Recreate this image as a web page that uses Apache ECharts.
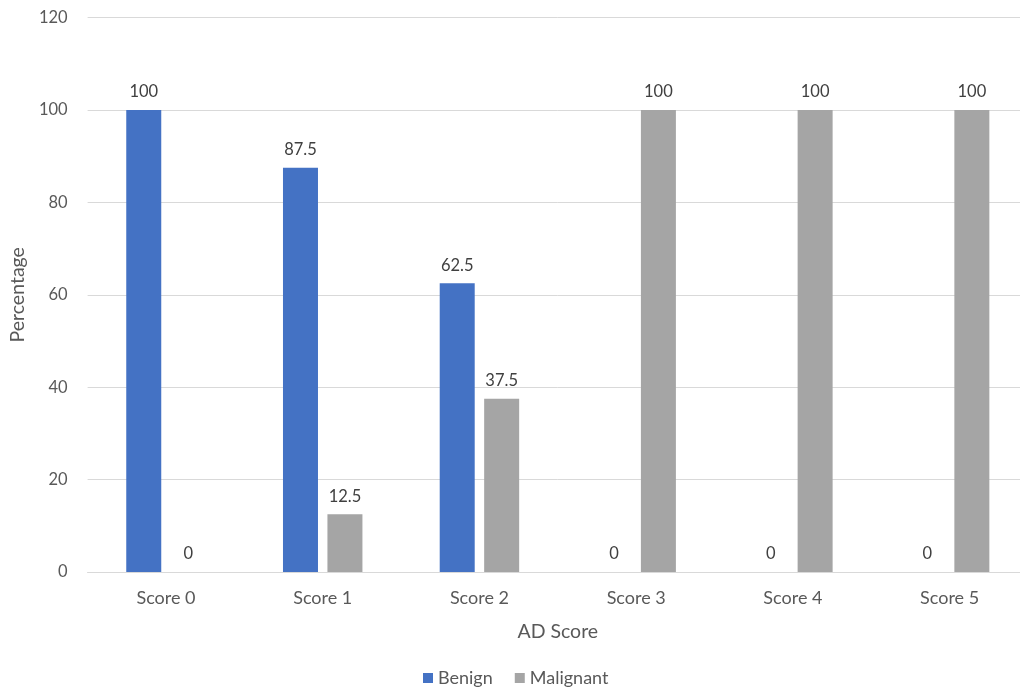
<!DOCTYPE html>
<html><head><meta charset="utf-8">
<script src="https://cdn.jsdelivr.net/npm/echarts@6/dist/echarts.min.js"></script>
<style>html,body{margin:0;padding:0;background:#fff;overflow:hidden}#c{width:1030px;height:691px}</style>
</head><body><div id="c"></div>
<script>
const categories = ['Score 0','Score 1','Score 2','Score 3','Score 4','Score 5'];
const benign = [100, 87.5, 62.5, 0, 0, 0];
const malignant = [0, 12.5, 37.5, 100, 100, 100];
const yTicks = [0, 20, 40, 60, 80, 100, 120];

const font = 'Lato, "Open Sans", sans-serif';
const chart = echarts.init(document.getElementById('c'), null, {renderer:'canvas'});
const lbl = {show:true, position:'top', distance:9.5, color:'#404040', fontSize:16.5, fontFamily:font};
chart.setOption({
  animation:false,
  grid:{left:85, width:943, top:17.6, bottom:119, containLabel:false},
  legend:{top:664, left:418, itemWidth:10, itemHeight:10, itemGap:22, icon:'rect',
    textStyle:{color:'#595959', fontSize:18, fontFamily:font}},
  xAxis:{type:'category', data:categories, name:'AD Score', nameLocation:'middle', nameGap:50,
    nameTextStyle:{color:'#595959', fontSize:19.5, fontFamily:font},
    axisLine:{lineStyle:{color:'#D9D9D9'}}, axisTick:{show:false},
    axisLabel:{color:'#595959', fontSize:18, fontFamily:font, margin:17}},
  yAxis:{type:'value', min:yTicks[0], max:yTicks[yTicks.length-1], interval:20,
    name:'Percentage', nameLocation:'middle', nameGap:56, nameRotate:90,
    nameTextStyle:{color:'#595959', fontSize:19.5, fontFamily:font},
    axisLine:{show:false}, axisTick:{show:false},
    splitLine:{lineStyle:{color:'#D9D9D9'}},
    axisLabel:{color:'#595959', fontSize:16.5, fontFamily:font, margin:20}},
  series:[
    {name:'Benign', type:'bar', data:benign, barWidth:35, barGap:'27%', itemStyle:{color:'#4472C4'}, label:lbl},
    {name:'Malignant', type:'bar', data:malignant, barWidth:35, itemStyle:{color:'#A5A5A5'}, label:lbl}
  ]
});
</script></body></html>
